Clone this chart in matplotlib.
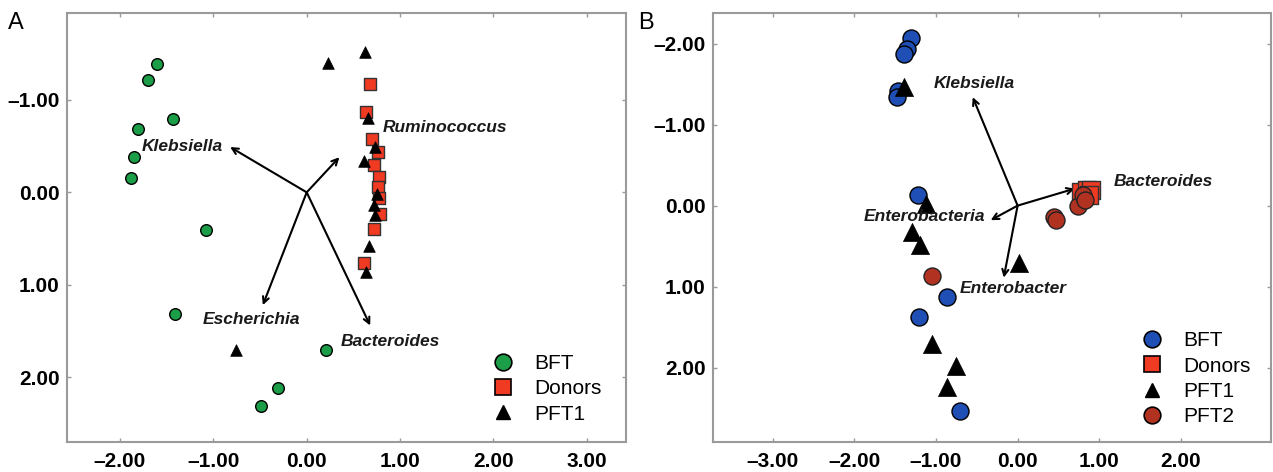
import matplotlib
matplotlib.use("Agg")
import matplotlib.pyplot as plt
from matplotlib.lines import Line2D
from matplotlib.ticker import FixedLocator, FuncFormatter

plt.rcParams['font.family'] = ['Liberation Sans', 'DejaVu Sans']

# ---------------- Panel A data ----------------
a_bft_x = [-1.60, -1.70, -1.43, -1.81, -1.85, -1.88, -1.08, -1.41, 0.21, -0.31, -0.49]
a_bft_y = [-1.39, -1.21, -0.79, -0.69, -0.385, -0.15, 0.41, 1.32, 1.71, 2.12, 2.31]

a_don_x = [0.68, 0.64, 0.70, 0.76, 0.72, 0.77, 0.76, 0.77, 0.79, 0.72, 0.61]
a_don_y = [-1.17, -0.87, -0.58, -0.44, -0.30, -0.17, -0.06, 0.06, 0.23, 0.40, 0.76]

a_pft1_x = [0.62, 0.23, 0.66, 0.73, 0.61, 0.75, 0.72, 0.73, 0.67, 0.64, -0.76]
a_pft1_y = [-1.52, -1.40, -0.80, -0.49, -0.34, 0.02, 0.14, 0.24, 0.58, 0.86, 1.70]

a_arrow_names = ['Klebsiella', 'Ruminococcus', 'Escherichia', 'Bacteroides']
a_arrow_x = [-0.82, 0.35, -0.47, 0.68]
a_arrow_y = [-0.49, -0.38, 1.22, 1.44]
a_label_x = [-0.90, 0.81, -1.11, 0.36]
a_label_y = [-0.50, -0.70, 1.37, 1.615]
a_label_ha = ['right', 'left', 'left', 'left']

a_ticks = [-2.0, -1.0, 0.0, 1.0, 2.0, 3.0]

# ---------------- Panel B data ----------------
b_bft_x = [-1.31, -1.36, -1.39, -1.47, -1.48, -1.22, -0.86, -1.21, -0.70]
b_bft_y = [-2.07, -1.94, -1.875, -1.42, -1.34, -0.13, 1.13, 1.38, 2.54]

b_don_x = [0.78, 0.85, 0.90, 0.88]
b_don_y = [-0.17, -0.19, -0.19, -0.13]

b_pft1_x = [-1.39, -1.12, -1.29, -1.19, 0.015, -1.055, -0.75, -0.87]
b_pft1_y = [-1.47, -0.02, 0.33, 0.49, 0.71, 1.71, 1.98, 2.24]

b_pft2_x = [-1.045, 0.45, 0.47, 0.74, 0.80, 0.83]
b_pft2_y = [0.87, 0.14, 0.18, 0.01, -0.13, -0.07]

b_arrow_names = ['Klebsiella', 'Bacteroides', 'Enterobacteria', 'Enterobacter']
b_arrow_x = [-0.55, 0.70, -0.33, -0.17]
b_arrow_y = [-1.34, -0.21, 0.18, 0.89]
b_label_x = [-1.03, 1.18, -0.40, -0.71]
b_label_y = [-1.51, -0.30, 0.14, 1.03]
b_label_ha = ['left', 'left', 'right', 'left']

b_xticks = [-3.0, -2.0, -1.0, 0.0, 1.0, 2.0]
b_yticks = [-2.0, -1.0, 0.0, 1.0, 2.0]

GREEN = '#1c9e48'
RED = '#f03a22'
BLUE = '#1f4fb4'
BROWN = '#b23222'
SPINE = '#9a9a9a'


def fmt(v, pos):
    s = f"{v:.2f}"
    return s.replace('-', '\u2013')


def style_axes(ax, xlim, ylim, xt, yt):
    ax.set_xlim(*xlim)
    ax.set_ylim(*ylim)
    for sp in ax.spines.values():
        sp.set_color(SPINE)
        sp.set_linewidth(1.5)
    ax.xaxis.set_major_locator(FixedLocator(xt))
    ax.yaxis.set_major_locator(FixedLocator(yt))
    ax.xaxis.set_major_formatter(FuncFormatter(fmt))
    ax.yaxis.set_major_formatter(FuncFormatter(fmt))
    ax.tick_params(axis='both', direction='in', length=3, width=1, color=SPINE,
                   top=True, right=True, labelsize=15)
    ax.tick_params(axis='x', pad=7)
    ax.tick_params(axis='y', pad=5)
    for lab in ax.get_xticklabels() + ax.get_yticklabels():
        lab.set_fontweight('bold')


def draw_arrows(ax, xs, ys, names, lx, ly, has):
    for x, y in zip(xs, ys):
        ax.annotate('', xy=(x, y), xytext=(0, 0),
                    arrowprops=dict(arrowstyle='->', lw=1.5, color='black',
                                    shrinkA=0, shrinkB=0, mutation_scale=11),
                    zorder=2)
    for n, x, y, ha in zip(names, lx, ly, has):
        ax.text(x, y, n, style='italic', weight='bold', fontsize=12.5,
                ha=ha, va='center', color='#1a1a1a', zorder=5)


fig = plt.figure(figsize=(12.73, 4.72), dpi=100)
axA = fig.add_axes([0.0524, 0.0636, 0.4394, 0.9089])
axB = fig.add_axes([0.5599, 0.0636, 0.4389, 0.9089])

# Panel A
draw_arrows(axA, a_arrow_x, a_arrow_y, a_arrow_names, a_label_x, a_label_y, a_label_ha)
axA.scatter(a_bft_x, a_bft_y, s=70, marker='o', facecolor=GREEN, edgecolor='black',
            linewidth=1.0, zorder=3)
axA.scatter(a_don_x, a_don_y, s=75, marker='s', facecolor=RED, edgecolor='#333333',
            linewidth=1.0, zorder=3)
axA.scatter(a_pft1_x, a_pft1_y, s=70, marker='^', facecolor='black', edgecolor='black',
            linewidth=0.5, zorder=4)
style_axes(axA, (-2.57, 3.42), (2.70, -1.94), a_ticks, a_ticks)

hA = [Line2D([], [], marker='o', ls='', markersize=12, markerfacecolor=GREEN,
             markeredgecolor='black', markeredgewidth=1.2),
      Line2D([], [], marker='s', ls='', markersize=12, markerfacecolor=RED,
             markeredgecolor='black', markeredgewidth=1.2),
      Line2D([], [], marker='^', ls='', markersize=10, markerfacecolor='black',
             markeredgecolor='black')]
axA.legend(hA, ['BFT', 'Donors', 'PFT1'], loc='upper left',
           bbox_to_anchor=(0.758, 0.205), frameon=False, fontsize=15,
           borderpad=0, borderaxespad=0, handletextpad=0.9, labelspacing=0.3,
           handlelength=1.2)

# Panel B
draw_arrows(axB, b_arrow_x, b_arrow_y, b_arrow_names, b_label_x, b_label_y, b_label_ha)
axB.scatter(b_bft_x, b_bft_y, s=150, marker='o', facecolor=BLUE, edgecolor='black',
            linewidth=1.0, zorder=3)
axB.scatter(b_don_x, b_don_y, s=170, marker='s', facecolor=RED, edgecolor='#333333',
            linewidth=1.0, zorder=3)
axB.scatter(b_pft2_x, b_pft2_y, s=150, marker='o', facecolor=BROWN, edgecolor='#222222',
            linewidth=1.0, zorder=3.5)
axB.scatter(b_pft1_x, b_pft1_y, s=170, marker='^', facecolor='black', edgecolor='black',
            linewidth=0.5, zorder=4)
style_axes(axB, (-3.735, 3.11), (2.92, -2.38), b_xticks, b_yticks)

hB = [Line2D([], [], marker='o', ls='', markersize=12, markerfacecolor=BLUE,
             markeredgecolor='black', markeredgewidth=1.2),
      Line2D([], [], marker='s', ls='', markersize=12, markerfacecolor=RED,
             markeredgecolor='black', markeredgewidth=1.2),
      Line2D([], [], marker='^', ls='', markersize=10, markerfacecolor='black',
             markeredgecolor='black'),
      Line2D([], [], marker='o', ls='', markersize=12, markerfacecolor=BROWN,
             markeredgecolor='black', markeredgewidth=1.2)]
axB.legend(hB, ['BFT', 'Donors', 'PFT1', 'PFT2'], loc='upper left',
           bbox_to_anchor=(0.763, 0.258), frameon=False, fontsize=15,
           borderpad=0, borderaxespad=0, handletextpad=0.9, labelspacing=0.3,
           handlelength=1.2)

fig.text(0.006, 0.975, 'A', fontsize=17, ha='left', va='top')
fig.text(0.501, 0.975, 'B', fontsize=17, ha='left', va='top')

fig.savefig('out.png', dpi=100)
